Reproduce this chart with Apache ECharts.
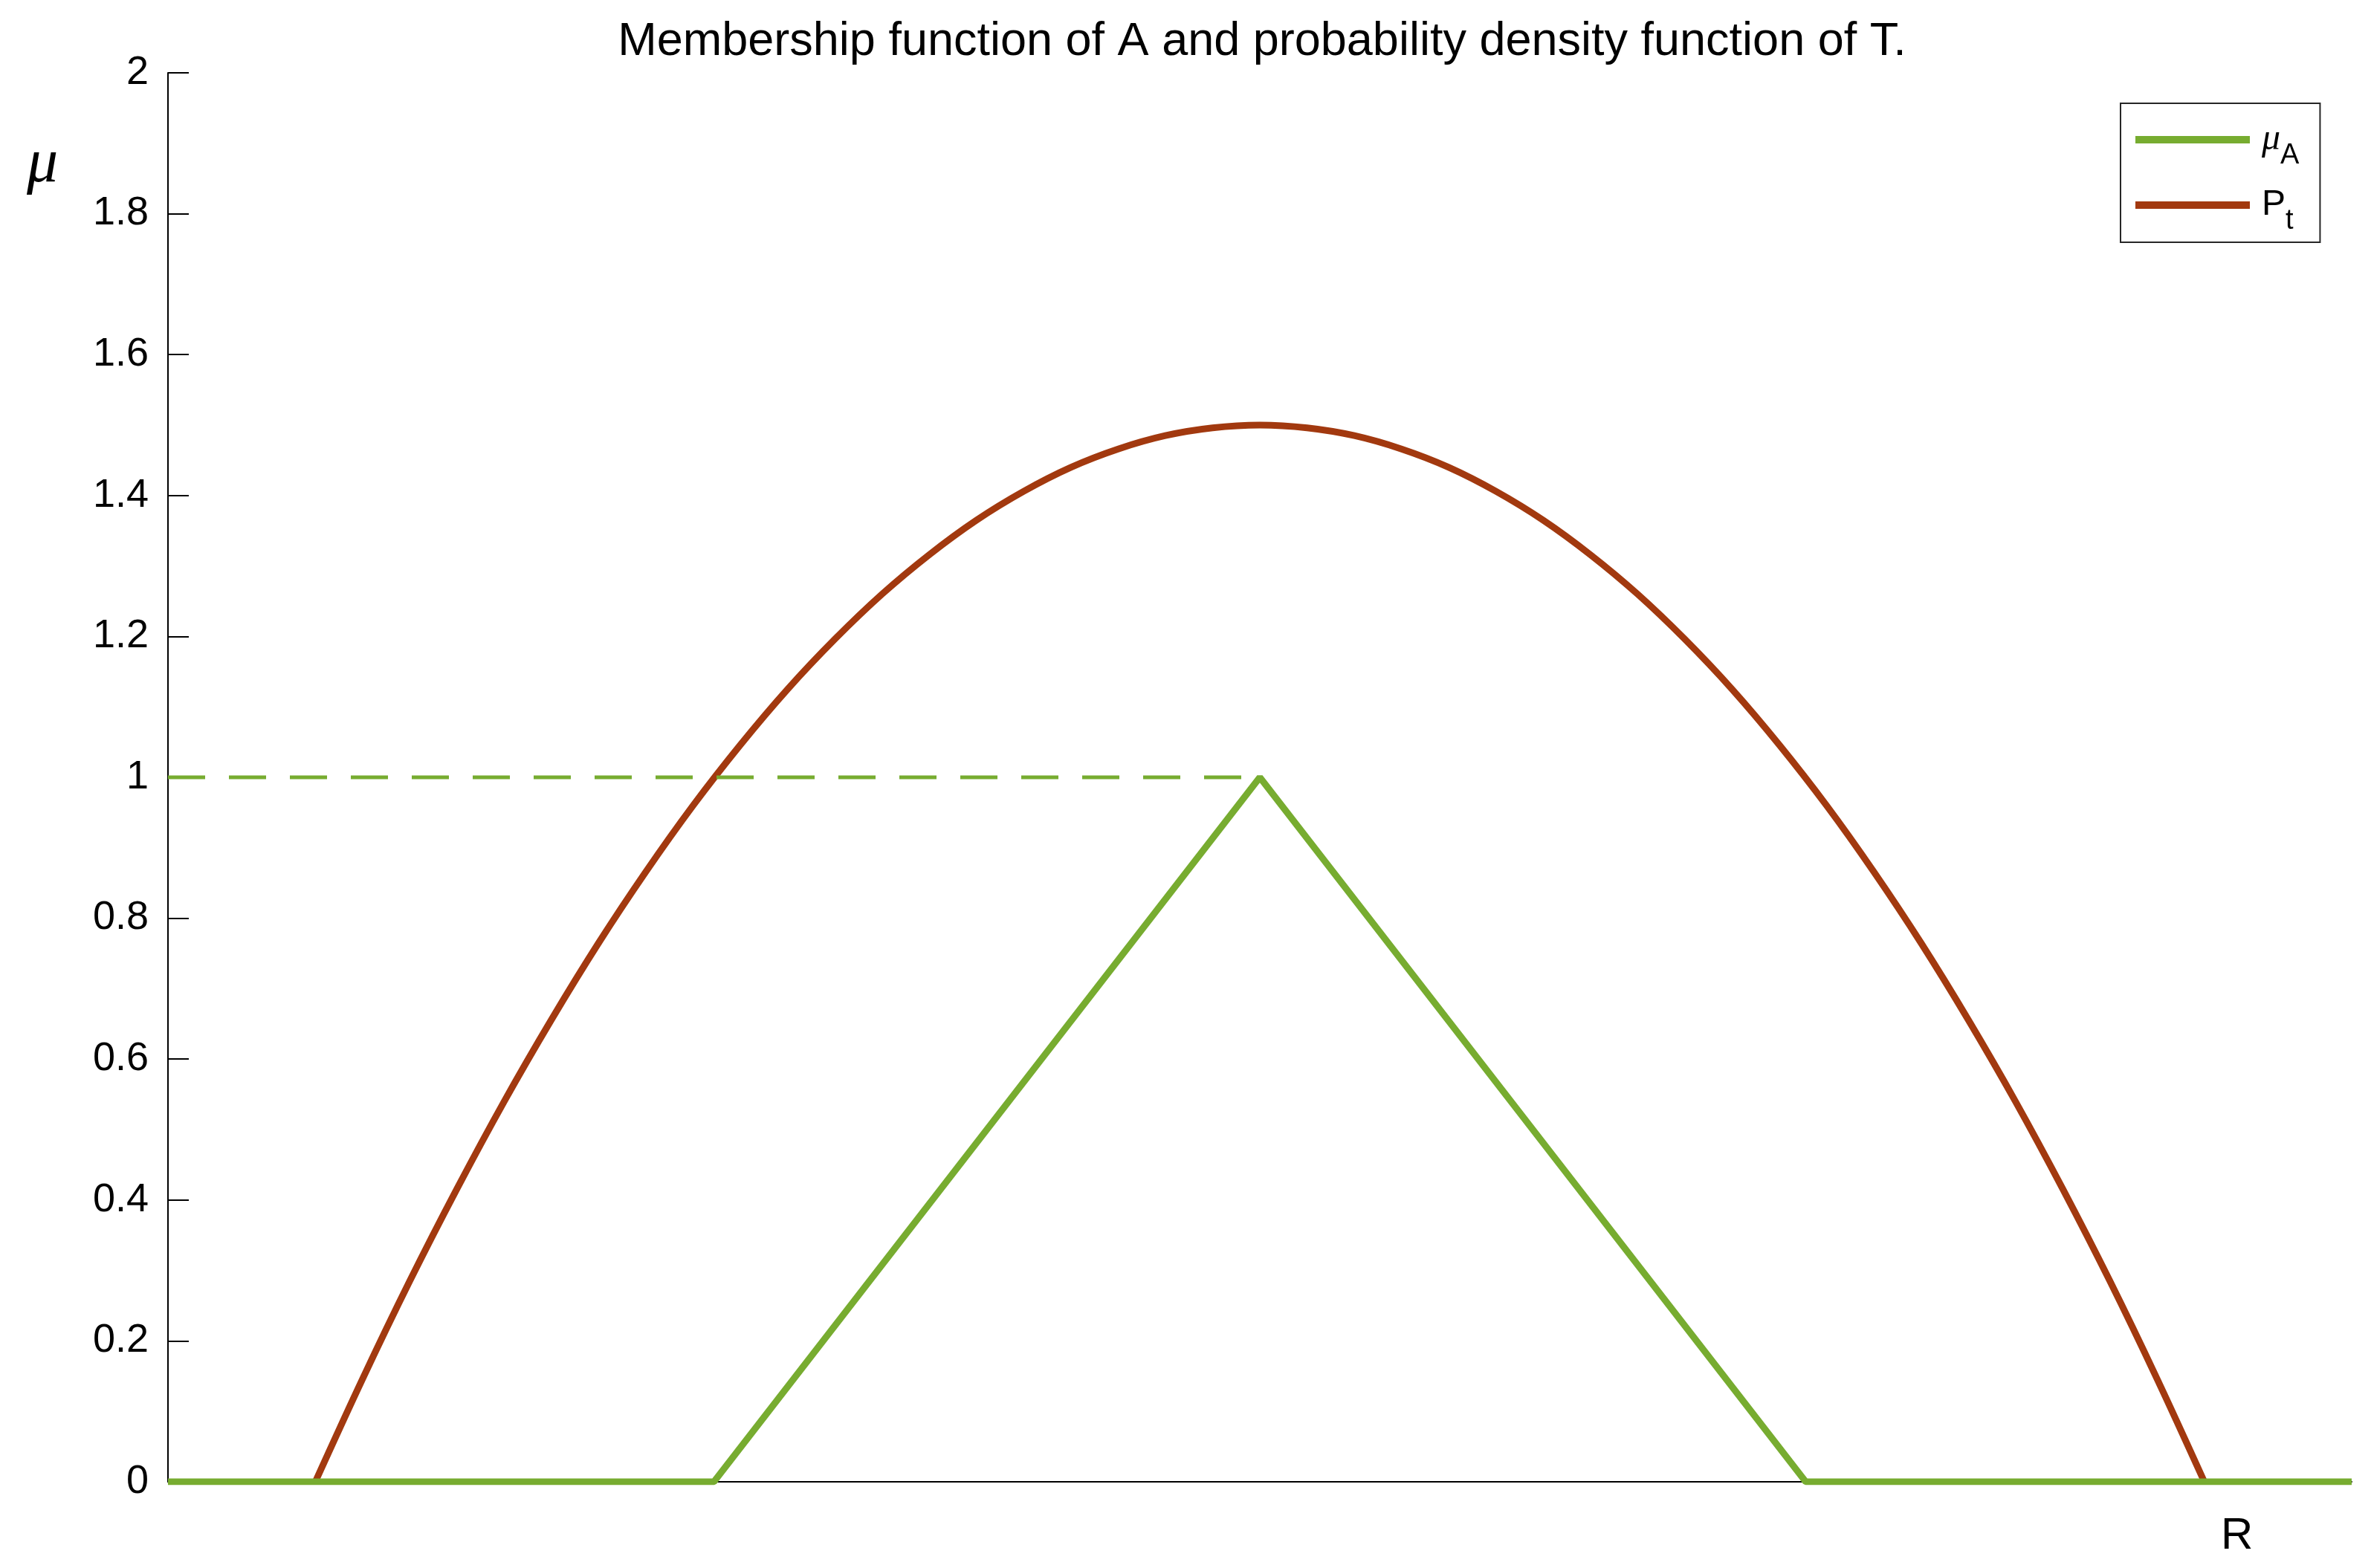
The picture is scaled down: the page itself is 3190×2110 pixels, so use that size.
<!DOCTYPE html>
<html>
<head>
<meta charset="utf-8">
<script src="https://cdn.jsdelivr.net/npm/echarts@6/dist/echarts.min.js"></script>
<style>
html,body{margin:0;padding:0;background:#fff;}
#chart{width:3190px;height:2110px;}
</style>
</head>
<body>
<div id="chart"></div>
<script>
// ---- data ----
const titleText = 'Membership function of A and probability density function of T.';
const xRange = [-0.578, 0.578];
// P_t : probability density of T
const ptX = [-0.5, -0.475, -0.45, -0.425, -0.4, -0.375, -0.35, -0.325, -0.3, -0.275, -0.25, -0.225, -0.2, -0.175, -0.15, -0.125, -0.1, -0.075, -0.05, -0.025,
             0, 0.025, 0.05, 0.075, 0.1, 0.125, 0.15, 0.175, 0.2, 0.225, 0.25, 0.275, 0.3, 0.325, 0.35, 0.375, 0.4, 0.425, 0.45, 0.475, 0.5];
const ptY = [0, 0.146, 0.285, 0.416, 0.54, 0.656, 0.765, 0.866, 0.96, 1.046, 1.125, 1.196, 1.26, 1.316, 1.365, 1.406, 1.44, 1.466, 1.485, 1.496,
             1.5, 1.496, 1.485, 1.466, 1.44, 1.406, 1.365, 1.316, 1.26, 1.196, 1.125, 1.046, 0.96, 0.866, 0.765, 0.656, 0.54, 0.416, 0.285, 0.146, 0];
// mu_A : triangular membership function
const muX = [-0.578, -0.289, 0, 0.289, 0.578];
const muY = [0, 0, 1, 0, 0];
// dashed reference level
const refX = [-0.578, 0];
const refY = [1, 1];
const yTickValues = [0, 0.2, 0.4, 0.6, 0.8, 1, 1.2, 1.4, 1.6, 1.8, 2];
const yTickLabels = ['0', '0.2', '0.4', '0.6', '0.8', '1', '1.2', '1.4', '1.6', '1.8', '2'];
const seriesNames = ['muA', 'Pt'];
const xAxisName = 'R';
const yAxisName = 'μ';

const pair = (xs, ys) => xs.map((x, i) => [x, ys[i]]);
const GREEN = '#77ac30';
const BROWN = '#a2390f';

const chart = echarts.init(document.getElementById('chart'), null, {renderer: 'canvas'});
chart.setOption({
  backgroundColor: '#ffffff',
  animation: false,
  title: {
    text: titleText,
    left: 1693,
    textAlign: 'center',
    top: 20,
    textStyle: {fontFamily: 'Liberation Sans', fontSize: 63, fontWeight: 'normal', color: '#000'}
  },
  grid: {left: 226, right: 26, top: 98, bottom: 116, containLabel: false},
  legend: {
    data: seriesNames,
    orient: 'vertical',
    left: 2853,
    top: 139,
    padding: [24, 28, 9, 20],
    itemWidth: 154,
    itemHeight: 10,
    itemGap: 23,
    icon: 'rect',
    borderColor: '#262626',
    borderWidth: 2,
    backgroundColor: '#fff',
    formatter: function (name) {
      if (name === 'muA') return '{m|μ}{s|A}';
      return '{p|P}{s|t}';
    },
    textStyle: {
      color: '#000',
      rich: {
        m: {fontFamily: 'Liberation Serif', fontStyle: 'italic', fontSize: 50, color: '#000', padding: [0, 0, 0, 11]},
        p: {fontFamily: 'Liberation Sans', fontSize: 48, color: '#000', padding: [0, 0, 0, 11]},
        s: {fontFamily: 'Liberation Sans', fontSize: 38, color: '#000', padding: [44, 0, 0, 0]}
      }
    }
  },
  xAxis: {
    type: 'value',
    min: xRange[0],
    max: xRange[1],
    axisLine: {show: true, onZero: false, lineStyle: {color: '#000', width: 2}},
    axisTick: {show: false},
    axisLabel: {show: false},
    splitLine: {show: false}
  },
  yAxis: {
    type: 'value',
    min: 0,
    max: 2,
    interval: 0.2,
    axisLine: {show: true, onZero: false, lineStyle: {color: '#000', width: 2}},
    axisTick: {show: true, inside: true, length: 28, lineStyle: {color: '#000', width: 2}},
    axisLabel: {
      margin: 26,
      fontFamily: 'Liberation Sans',
      fontSize: 54,
      color: '#000',
      formatter: function (v) {
        const i = yTickValues.findIndex(t => Math.abs(t - v) < 1e-6);
        return i >= 0 ? yTickLabels[i] : '';
      }
    },
    splitLine: {show: false}
  },
  graphic: [
    {type: 'text', left: 36, top: 180, style: {text: yAxisName, fontFamily: 'Liberation Serif', fontStyle: 'italic', fontSize: 84, fill: '#000'}},
    {type: 'text', left: 2988, top: 2037, style: {text: xAxisName, fontFamily: 'Liberation Sans', fontSize: 60, fill: '#000'}}
  ],
  series: [
    {
      name: 'Pt', type: 'line', data: pair(ptX, ptY), smooth: 0.35, symbol: 'none',
      color: BROWN, lineStyle: {color: BROWN, width: 9}, z: 2
    },
    {
      name: 'muA', type: 'line', data: pair(muX, muY), symbol: 'none',
      color: GREEN, lineStyle: {color: GREEN, width: 9}, z: 3
    },
    {
      name: 'ref', type: 'line', data: pair(refX, refY), symbol: 'none',
      color: GREEN, lineStyle: {color: GREEN, width: 5, type: [50, 32]}, z: 3
    }
  ]
});
</script>
</body>
</html>
